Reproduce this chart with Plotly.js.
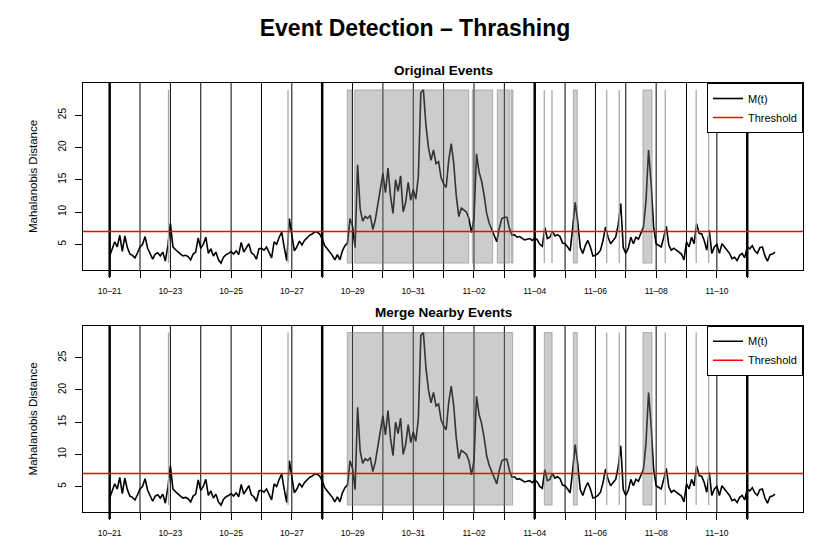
<!DOCTYPE html>
<html>
<head>
<meta charset="utf-8">
<script src="https://cdn.plot.ly/plotly-3.0.1.min.js"></script>
<style>html,body{margin:0;padding:0;background:#fff;}</style>
</head>
<body>
<div id="chart" style="width:830px;height:554px;"></div>
<script>
// ---- data ----
const startDate = Date.UTC(2013, 9, 21); // 2013-10-21 00:00
const stepHours = 2;
const mWeek1 = [ // 10-21 .. 10-27
  3.2, 4.5, 5.4, 4.6, 6.4, 3.9, 6.3, 4.5, 3.5, 3.3, 2.9, 3.7,
  4.6, 5.0, 6.2, 4.4, 3.6, 2.7, 3.5, 3.7, 3.2, 3.8, 2.4, 4.8,
  8.2, 4.6, 4.2, 3.8, 3.5, 3.2, 3.3, 3.1, 2.6, 3.5, 3.8, 6.0,
  4.4, 5.0, 6.1, 3.6, 4.3, 3.2, 3.8, 2.6, 2.1, 3.0, 3.4, 3.6,
  3.9, 3.5, 4.0, 3.4, 5.3, 3.8, 4.4, 5.1, 3.7, 3.4, 2.7, 4.3,
  4.4, 4.1, 4.6, 3.8, 2.9, 5.4, 5.0, 6.1, 6.9, 4.5, 2.5, 9.0,
  6.3, 4.0, 4.6, 5.5, 4.9, 5.6, 6.0, 6.4, 6.6, 6.9, 6.9, 6.6
];
const mWeek2 = [ // 10-28 .. 11-03
  5.9, 4.8, 4.3, 3.8, 3.3, 2.6, 3.4, 2.6, 4.0, 4.8, 5.2, 9.0,
  7.8, 4.5, 17.3, 10.5, 8.6, 9.3, 9.0, 9.5, 7.3, 8.8, 11.2, 13.4,
  16.0, 13.0, 16.8, 12.5, 9.8, 15.0, 13.2, 15.6, 10.0, 11.5, 14.6, 11.8,
  13.5, 12.0, 15.5, 28.5, 28.9, 23.5, 20.0, 18.0, 19.6, 17.5, 17.8, 15.3,
  14.4, 13.8, 18.0, 20.6, 17.5, 12.5, 9.3, 10.6, 10.3, 10.0, 9.0, 6.8,
  9.0, 19.0, 16.2, 14.8, 12.6, 9.8, 8.3, 7.3, 6.5, 5.4, 7.5, 9.0,
  9.2, 9.2, 7.5, 6.4, 6.5, 6.1, 6.2, 5.9, 5.7, 5.8, 5.9, 5.6
];
const mWeek3 = [ // 11-04 .. 11-10
  6.0, 5.7, 5.0, 4.7, 7.6, 5.9, 6.1, 7.0, 6.3, 6.5, 6.2, 5.2,
  5.1, 4.6, 4.0, 7.5, 11.5, 8.5, 4.5, 3.6, 4.8, 5.6, 4.6, 3.2,
  3.3, 3.6, 4.1, 5.6, 7.7, 6.1, 5.1, 5.6, 6.1, 8.0, 11.3, 4.5,
  3.6, 4.4, 6.1, 5.1, 6.1, 5.8, 6.7, 7.7, 11.8, 19.6, 14.5, 7.7,
  5.1, 4.9, 4.6, 6.1, 7.8, 4.9, 4.1, 4.4, 4.1, 3.8, 3.5, 2.6,
  5.4, 4.6, 6.1, 5.1, 8.2, 6.7, 6.6, 5.6, 4.1, 7.2, 3.6, 4.6,
  5.0, 3.6, 5.1, 4.6, 4.1, 3.6, 2.8, 3.0, 2.5, 3.3, 3.6, 2.9
];
const mWeek4 = [ // 11-11
  4.6, 4.3, 4.8, 4.0, 3.6, 4.5, 4.6, 3.2, 2.4, 3.4, 3.5, 3.8
];
const threshold = 7;

const dayTicks = ['2013-10-21','2013-10-22','2013-10-23','2013-10-24','2013-10-25','2013-10-26','2013-10-27',
  '2013-10-28','2013-10-29','2013-10-30','2013-10-31','2013-11-01','2013-11-02','2013-11-03',
  '2013-11-04','2013-11-05','2013-11-06','2013-11-07','2013-11-08','2013-11-09','2013-11-10','2013-11-11'];
const dayLabels = ['10–21','','10–23','','10–25','','10–27','','10–29','','10–31','','11–02','',
  '11–04','','11–06','','11–08','','11–10',''];
const weekStarts = ['2013-10-21','2013-10-28','2013-11-04','2013-11-11'];
const yTicks = [5, 10, 15, 20, 25];

const originalEventStart = ['2013-10-22 22:30','2013-10-26 21:00','2013-10-28 19:50','2013-10-29 01:40',
  '2013-11-01 22:40','2013-11-02 18:25','2013-11-03 05:15','2013-11-04 07:35','2013-11-04 13:40',
  '2013-11-05 06:30','2013-11-06 08:55','2013-11-06 18:50','2013-11-07 13:35','2013-11-08 07:10',
  '2013-11-09 07:40','2013-11-09 17:30'];
const originalEventEnd = ['2013-10-22 22:30','2013-10-26 21:00','2013-10-28 23:30','2013-11-01 19:50',
  '2013-11-02 14:45','2013-11-03 03:55','2013-11-03 06:50','2013-11-04 07:35','2013-11-04 13:40',
  '2013-11-05 09:40','2013-11-06 08:55','2013-11-06 18:50','2013-11-07 20:45','2013-11-08 07:10',
  '2013-11-09 07:40','2013-11-09 17:30'];
const mergedEventStart = ['2013-10-22 22:30','2013-10-26 21:00','2013-10-28 19:50','2013-11-04 07:35',
  '2013-11-05 06:30','2013-11-06 08:55','2013-11-06 18:50','2013-11-07 13:35','2013-11-08 07:10',
  '2013-11-09 07:40','2013-11-09 17:30'];
const mergedEventEnd = ['2013-10-22 22:30','2013-10-26 21:00','2013-11-03 06:35','2013-11-04 13:45',
  '2013-11-05 09:40','2013-11-06 08:55','2013-11-06 18:50','2013-11-07 20:45','2013-11-08 07:10',
  '2013-11-09 07:40','2013-11-09 17:30'];

// ---- build ----
const mValues = [].concat(mWeek1, mWeek2, mWeek3, mWeek4);
const pad2 = n => String(n).padStart(2, '0');
function fmt(ms) {
  const d = new Date(ms);
  return d.getUTCFullYear() + '-' + pad2(d.getUTCMonth() + 1) + '-' + pad2(d.getUTCDate()) +
    ' ' + pad2(d.getUTCHours()) + ':' + pad2(d.getUTCMinutes());
}
const times = mValues.map((_, i) => fmt(startDate + i * stepHours * 3600e3));
const lo = Math.min(...mValues), hi = Math.max(...mValues);
const yPad = 0.04 * (hi - lo);
const yRange = [lo - yPad, hi + yPad];
const xRange = ['2013-10-20 02:55', '2013-11-12 20:05'];

const FONT = 'Liberation Sans, Arial, Helvetica, sans-serif';

function panelShapes(xr, yr, legendName, starts, ends) {
  const s = [];
  dayTicks.forEach(d => {
    const wk = weekStarts.includes(d);
    s.push({type: 'line', xref: xr, yref: yr + ' domain', x0: d, x1: d,
      y0: wk ? -0.037 : 0, y1: 1, layer: 'above',
      line: {color: '#000', width: wk ? 2.5 : 1}});
  });
  starts.forEach((st, i) => {
    const en = ends[i];
    if (st === en) {
      s.push({type: 'line', xref: xr, yref: yr, x0: st, x1: en, y0: lo, y1: hi, layer: 'above',
        line: {color: '#ababab', width: 1.3}});
    } else {
      s.push({type: 'rect', xref: xr, yref: yr, x0: st, x1: en, y0: lo, y1: hi, layer: 'above',
        fillcolor: 'rgba(128,128,128,0.4)', line: {color: 'rgba(128,128,128,0.55)', width: 1}});
    }
  });
  s.push({type: 'line', xref: xr + ' domain', yref: yr, x0: 0, x1: 1, y0: threshold, y1: threshold,
    layer: 'above', line: {color: '#ff0000', width: 1.5},
    showlegend: true, name: 'Threshold', legend: legendName, legendrank: 2});
  return s;
}

const traces = [
  {x: times, y: mValues, type: 'scatter', mode: 'lines', name: 'M(t)', xaxis: 'x', yaxis: 'y',
   line: {color: '#000', width: 1.6}, legend: 'legend', legendrank: 1, hoverinfo: 'skip'},
  {x: times, y: mValues, type: 'scatter', mode: 'lines', name: 'M(t)', xaxis: 'x2', yaxis: 'y2',
   line: {color: '#000', width: 1.6}, legend: 'legend2', legendrank: 1, hoverinfo: 'skip'}
];

function xAxis(anchor) {
  return {type: 'date', domain: [0, 1], anchor: anchor, range: xRange,
    tickmode: 'array', tickvals: dayTicks, ticktext: dayLabels,
    ticks: 'outside', ticklen: 7, tickwidth: 1, tickcolor: '#000',
    showgrid: false, zeroline: false, showline: true, mirror: true, linecolor: '#000', linewidth: 1,
    tickfont: {family: FONT, size: 8.5, color: '#000'}, ticklabelstandoff: 6, automargin: false};
}
function yAxis(anchor, dom) {
  return {domain: dom, anchor: anchor, range: yRange, tickmode: 'array', tickvals: yTicks,
    ticks: 'outside', ticklen: 7, tickwidth: 1, tickcolor: '#000', tickangle: -90,
    showgrid: false, zeroline: false, showline: true, mirror: true, linecolor: '#000', linewidth: 1,
    tickfont: {family: FONT, size: 10, color: '#000'}, ticklabelstandoff: 5, automargin: false,
    title: {text: 'Mahalanobis Distance', font: {family: FONT, size: 11.5, color: '#000'}, standoff: 16}};
}
function legendCfg(y) {
  return {x: 1, xref: 'paper', xanchor: 'right', y: y, yref: 'paper', yanchor: 'top',
    bgcolor: '#fff', bordercolor: '#000', borderwidth: 1,
    font: {family: FONT, size: 11, color: '#000'}, itemwidth: 30, tracegroupgap: 0};
}

const layout = {
  width: 830, height: 554,
  margin: {l: 83, r: 27, t: 83, b: 42},
  paper_bgcolor: '#fff', plot_bgcolor: '#fff',
  font: {family: FONT, color: '#000'},
  title: {text: '<b>Event Detection – Thrashing</b>', font: {family: FONT, size: 23, color: '#000'},
    x: 0.5, xref: 'container', xanchor: 'center', y: 1 - 28 / 554, yref: 'container', yanchor: 'middle'},
  xaxis: xAxis('y'),
  yaxis: yAxis('x', [0.5641, 1]),
  xaxis2: xAxis('y2'),
  yaxis2: yAxis('x2', [0, 0.4343]),
  legend: legendCfg(1),
  legend2: legendCfg(0.4343),
  showlegend: true,
  shapes: [].concat(
    panelShapes('x', 'y', 'legend', originalEventStart, originalEventEnd),
    panelShapes('x2', 'y2', 'legend2', mergedEventStart, mergedEventEnd)
  ),
  annotations: [
    {text: '<b>Original Events</b>', xref: 'paper', yref: 'paper', x: 0.5, y: 1 + 13 / 429,
     xanchor: 'center', yanchor: 'middle', showarrow: false, font: {family: FONT, size: 13.5, color: '#000'}},
    {text: '<b>Merge Nearby Events</b>', xref: 'paper', yref: 'paper', x: 0.5, y: 1 - 229 / 429,
     xanchor: 'center', yanchor: 'middle', showarrow: false, font: {family: FONT, size: 13.5, color: '#000'}}
  ]
};

Plotly.newPlot('chart', traces, layout, {displayModeBar: false, staticPlot: true});
</script>
</body>
</html>
